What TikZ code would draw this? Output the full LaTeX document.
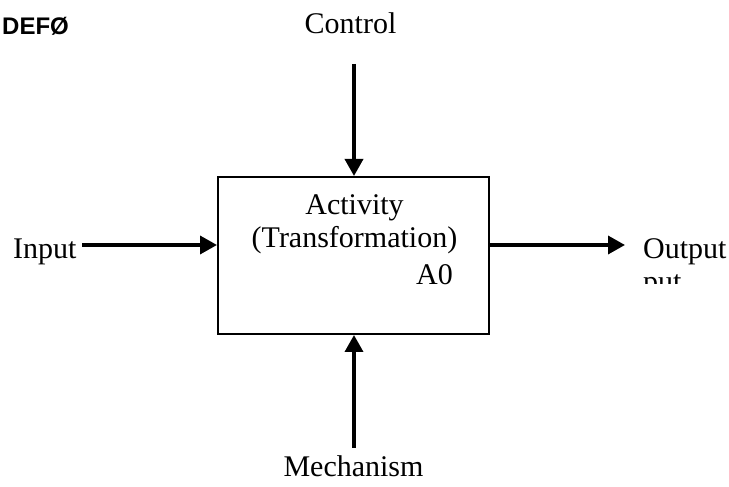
\documentclass[tikz,border=0pt]{standalone}
\usepackage{fontspec}
\setmainfont{Liberation Serif}
\newfontfamily\headfont{Liberation Sans}
\usetikzlibrary{arrows.meta}
\tikzset{
  lbl/.style={inner sep=0pt, font=\fontsize{30}{34}\selectfont},
  flow/.style={line width=3.5pt, -{Triangle[length=17pt,width=18pt]}},
  actbox/.style={draw, line width=2pt, minimum width=271pt, minimum height=157pt, inner sep=0pt}
}
\begin{document}
\begin{tikzpicture}[x=1pt,y=1pt]
\useasboundingbox (0,0) rectangle (729,487);
\node[actbox] (box) at (353.5,231.5) {};
\node[lbl, anchor=base] (act) at (354.5,272) {Activity};
\node[lbl, anchor=base] (trans) at (354.5,239) {(Transformation)};
\node[lbl, anchor=base east] (a0) at (453,202) {A0};
\node[inner sep=0pt, anchor=base west, font=\headfont\bfseries\fontsize{24}{28}\selectfont] (title) at (2,452) {DEFØ};
\node[lbl, anchor=base] (ctrl) at (350.5,453) {Control};
\node[lbl, anchor=base west] (inp) at (13,228) {Input};
\node[lbl, anchor=base west] (outp) at (643,228) {Output};
\node[lbl, anchor=base] (mech) at (353.5,10) {Mechanism};
\begin{scope}
\clip (600,203.5) rectangle (729,215);
\node[lbl, anchor=base west] (putfrag) at (643,195) {put};
\end{scope}
\coordinate (ctrlS) at (354,423);
\coordinate (mechS) at (354,39);
\coordinate (inS) at (82,242);
\coordinate (outE) at (625,242);
\draw[flow] (ctrlS) -- (ctrlS |- box.north);
\draw[flow] (mechS) -- (mechS |- box.south);
\draw[flow] (inS) -- (inS -| box.west);
\draw[flow] (outE -| box.east) -- (outE);
\end{tikzpicture}
\end{document}
